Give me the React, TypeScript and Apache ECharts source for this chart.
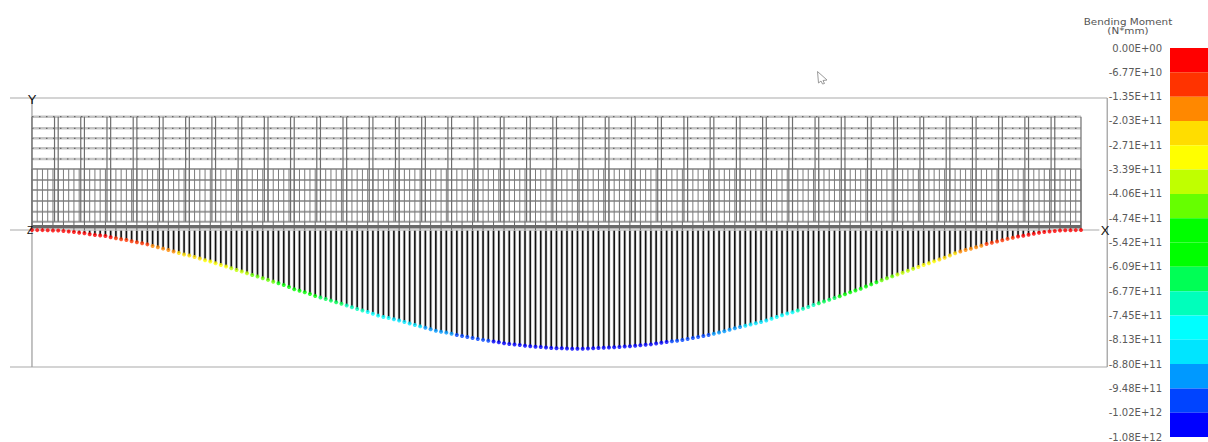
import React, { useEffect, useRef } from "react";
import * as echarts from "echarts";

// Bending moment at each of the 201 beam stations, in units of 1E+11 N*mm (negative = sagging)
const bendingMomentE11 = [
  0, .01, .01, .02, .04, .05, .09, .14, .19, .25, .30, .38, .46, .50, .55, .66, .76, .85, .91, 1.02,
  1.12, 1.21, 1.31, 1.45, 1.58, 1.70, 1.82, 1.97, 2.10, 2.23, 2.33, 2.46, 2.60, 2.75, 2.88, 3.04, 3.19, 3.33, 3.48, 3.65,
  3.79, 3.94, 4.10, 4.24, 4.40, 4.55, 4.71, 4.85, 5.02, 5.20, 5.41, 5.54, 5.67, 5.84, 6.01, 6.15, 6.29, 6.44, 6.58, 6.73,
  6.89, 7.04, 7.20, 7.34, 7.48, 7.64, 7.81, 7.93, 8.03, 8.14, 8.26, 8.39, 8.53, 8.66, 8.79, 8.91, 9.05, 9.18, 9.28, 9.36,
  9.47, 9.58, 9.67, 9.76, 9.85, 9.94, 10.02, 10.10, 10.17, 10.24, 10.32, 10.40, 10.44, 10.49, 10.55, 10.61, 10.64, 10.67, 10.72, 10.76,
  10.78, 10.79, 10.81, 10.83, 10.83, 10.83, 10.80, 10.79, 10.76, 10.73, 10.72, 10.69, 10.67, 10.63, 10.60, 10.56, 10.52, 10.47, 10.43, 10.36,
  10.29, 10.21, 10.15, 10.10, 10.03, 9.94, 9.85, 9.76, 9.67, 9.58, 9.47, 9.35, 9.23, 9.10, 8.96, 8.85, 8.73, 8.62, 8.50, 8.39,
  8.25, 8.09, 7.93, 7.77, 7.62, 7.50, 7.34, 7.18, 7.02, 6.84, 6.68, 6.52, 6.37, 6.20, 6.05, 5.86, 5.68, 5.52, 5.35, 5.15,
  4.96, 4.77, 4.59, 4.40, 4.23, 4.06, 3.89, 3.71, 3.54, 3.37, 3.19, 3.03, 2.86, 2.69, 2.54, 2.33, 2.12, 1.96, 1.82, 1.71,
  1.57, 1.43, 1.28, 1.16, 1.05, .93, .81, .70, .60, .52, .43, .34, .25, .18, .13, .09, .05, .03, .02, .01, 0,
];

const legendTickLabels = [
  "0.00E+00", "-6.77E+10", "-1.35E+11", "-2.03E+11", "-2.71E+11", "-3.39E+11", "-4.06E+11", "-4.74E+11", "-5.42E+11",
  "-6.09E+11", "-6.77E+11", "-7.45E+11", "-8.13E+11", "-8.80E+11", "-9.48E+11", "-1.02E+12", "-1.08E+12",
];
const legendColors = [
  "#ff0000", "#ff3300", "#ff8800", "#ffdd00", "#ffff00", "#c0ff00", "#66ff00", "#00ff00",
  "#00ff00", "#00ff55", "#00ffbb", "#00ffff", "#00e5ff", "#0099ff", "#0044ff", "#0000ff",
];
const legendStepE11 = 0.677;

// Structure elevations above the beam datum
const topBayLevels = [113.3, 101.7, 91.7, 81.7, 71];
const midLevel = 61;
const lowerLevels = [50, 40, 29, 18.3, 8.3];
const baseLevel = 3.3;
const bayStations = [
  5, 10, 15, 20, 25, 30, 35, 40, 45, 50, 55, 60, 65, 70, 75, 80, 85, 90, 95, 100,
  105, 110, 115, 120, 125, 130, 135, 140, 145, 150, 155, 160, 165, 170, 175, 180, 185, 190, 195,
];
const pairOffset = 0.7;

const stations = bendingMomentE11.map((_, i) => i);
const xMin = -4.19;
const xMax = 205.15;
const frameRight = 205;
const datumRight = 203.5;
const heightMax = 132;
const heightMin = -137;

const lineStyles: Record<string, any> = {
  frame: { stroke: "#c6c6c6", lineWidth: 1.5 },
  frameV: { stroke: "#9a9a9a", lineWidth: 1.2 },
  band: { stroke: "#c4c4c4", lineWidth: 2.6 },
  dots: { stroke: "#555555", lineWidth: 1, lineDash: [1.5, 5.5] },
  lower: { stroke: "#a0a0a0", lineWidth: 2 },
  vert: { stroke: "#7c7c7c", lineWidth: 1 },
  bay: { stroke: "#6e6e6e", lineWidth: 1.2 },
  base: { stroke: "#6a6a6a", lineWidth: 3.5 },
  tick: { stroke: "#666666", lineWidth: 1 },
};
const styleNames = Object.keys(lineStyles);

function buildStructure() {
  const seg: any[] = [];
  const add = (x0: number, y0: number, x1: number, y1: number, k: string) =>
    seg.push([x0, y0, x1, y1, styleNames.indexOf(k)]);
  add(xMin, heightMax, frameRight, heightMax, "frame");
  add(xMin, heightMin, frameRight, heightMin, "frame");
  add(xMin, 0, datumRight, 0, "frame");
  add(0, heightMax, 0, heightMin, "frameV");
  add(frameRight, heightMax, frameRight, heightMin, "frameV");
  topBayLevels.forEach((h) => add(0, h, 200, h, "band"));
  [midLevel, ...lowerLevels].forEach((h) => add(0, h, 200, h, "lower"));
  stations.forEach((s) => add(s, midLevel, s, lowerLevels[4], "vert"));
  stations.filter((s) => s % 2 === 0).forEach((s) => add(s, lowerLevels[4], s, 0, "tick"));
  topBayLevels.forEach((h) => add(0, h, 200, h, "dots"));
  bayStations.forEach((s) => {
    add(s, topBayLevels[0], s, lowerLevels[4], "bay");
    add(s - pairOffset, topBayLevels[0], s - pairOffset, lowerLevels[4], "bay");
  });
  add(0, topBayLevels[0], 0, 0, "bay");
  add(200, topBayLevels[0], 200, 0, "bay");
  add(0, baseLevel, 200, baseLevel, "base");
  return seg;
}

const colorOf = (v: number) =>
  legendColors[Math.min(legendColors.length - 1, Math.floor(Math.abs(v) / legendStepE11))];

const cursorPoints = [
  [817.5, 71.5], [827, 80], [823, 80.5], [824.5, 83.5], [822.5, 84], [821, 81], [818.5, 83],
];

const labelFont = "DejaVu Sans";
const titleText = {
  fontFamily: labelFont,
  fontSize: 8,
  fill: "#555555",
  align: "center",
  verticalAlign: "middle",
};

export default function App() {
  const ref = useRef<HTMLDivElement>(null);
  useEffect(() => {
    const chart = echarts.init(ref.current!, undefined, { renderer: "svg" });
    const momentPoints = stations.map((s) => [s, -bendingMomentE11[s]]);
    chart.setOption({
      animation: false,
      backgroundColor: "#ffffff",
      grid: [
        { left: 10, top: 98, width: 1098, height: 269 },
        { left: 1170, top: 48, width: 38, height: 390 },
      ],
      xAxis: [
        { type: "value", gridIndex: 0, min: xMin, max: xMax, show: false },
        { type: "category", gridIndex: 1, data: ["Bending Moment"], show: false },
      ],
      yAxis: [
        { type: "value", gridIndex: 0, min: heightMin * 0.0912, max: heightMax * 0.0912, show: false },
        { type: "value", gridIndex: 0, min: heightMin, max: heightMax, show: false },
        {
          type: "value",
          gridIndex: 1,
          min: 0,
          max: 16,
          interval: 1,
          inverse: true,
          axisLine: { show: false },
          axisTick: { show: false },
          splitLine: { show: false },
          axisLabel: {
            margin: 8,
            fontFamily: labelFont,
            fontSize: 10,
            color: "#5a5a5a",
            padding: [3, 0, 0, 0],
            showMinLabel: true,
            showMaxLabel: true,
            formatter: (v: number) => legendTickLabels[v],
          },
        },
      ],
      series: [
        {
          type: "custom",
          name: "Moment hatch halo",
          xAxisIndex: 0,
          yAxisIndex: 0,
          z: 1,
          silent: true,
          data: momentPoints,
          renderItem: (_: any, api: any) => {
            const a = api.coord([api.value(0), 0]);
            const b = api.coord([api.value(0), api.value(1)]);
            return {
              type: "line",
              shape: { x1: a[0], y1: a[1], x2: b[0], y2: b[1] },
              style: { stroke: "#e2e2e2", lineWidth: 3.5 },
            };
          },
        },
        {
          type: "custom",
          name: "Structure",
          xAxisIndex: 0,
          yAxisIndex: 1,
          z: 3,
          silent: true,
          clip: false,
          data: buildStructure(),
          renderItem: (_: any, api: any) => {
            const a = api.coord([api.value(0), api.value(1)]);
            const b = api.coord([api.value(2), api.value(3)]);
            return {
              type: "line",
              shape: { x1: a[0], y1: a[1], x2: b[0], y2: b[1] },
              style: { ...lineStyles[styleNames[api.value(4)]], fill: null },
            };
          },
        },
        {
          type: "bar",
          name: "Bending Moment",
          xAxisIndex: 0,
          yAxisIndex: 0,
          z: 2,
          barWidth: 1.6,
          itemStyle: { color: "#111111" },
          data: momentPoints,
        },
        {
          type: "scatter",
          name: "Bending Moment points",
          xAxisIndex: 0,
          yAxisIndex: 0,
          z: 5,
          symbol: "circle",
          symbolSize: 4,
          itemStyle: { color: (p: any) => colorOf(p.value[1]) },
          data: momentPoints,
        },
        ...legendColors.map((color, i) => ({
          type: "bar",
          name: legendTickLabels[i],
          xAxisIndex: 1,
          yAxisIndex: 2,
          stack: "legend",
          barWidth: "100%",
          itemStyle: { color },
          data: [1],
        })),
      ],
      graphic: [
        { type: "text", x: 1128, y: 21.5, scaleX: 1.3, style: { text: "Bending Moment", ...titleText } },
        { type: "text", x: 1128, y: 30.5, scaleX: 1.3, style: { text: "(N*mm)", ...titleText } },
        { type: "text", x: 32, y: 99, z: 10, style: { text: "Y", fontFamily: "Liberation Sans", fontSize: 13, fill: "#111111", align: "center", verticalAlign: "middle" } },
        { type: "text", x: 30, y: 230, z: 10, style: { text: "Z", fontFamily: "Liberation Sans", fontSize: 10, fill: "#111111", align: "center", verticalAlign: "middle" } },
        { type: "text", x: 1105, y: 230, z: 10, style: { text: "X", fontFamily: "Liberation Sans", fontSize: 13, fill: "#111111", align: "center", verticalAlign: "middle" } },
        { type: "polygon", shape: { points: cursorPoints }, style: { fill: "#ffffff", stroke: "#9a9a9a", lineWidth: 1 } },
      ],
    });
    return () => chart.dispose();
  }, []);
  return <div ref={ref} style={{ position: "fixed", left: 0, top: 0, width: 1208, height: 442, background: "#fff" }} />;
}
